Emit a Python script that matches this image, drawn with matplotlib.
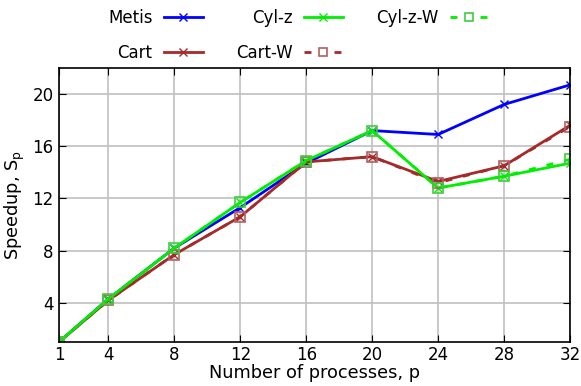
import numpy as np
import matplotlib
matplotlib.use("Agg")
import matplotlib.pyplot as plt
from matplotlib.lines import Line2D

procs = [1, 4, 8, 12, 16, 20, 24, 28, 32]
metis = [1.0, 4.3, 8.2, 11.3, 14.7, 17.2, 16.9, 19.2, 20.7]
cart = [1.0, 4.2, 7.7, 10.6, 14.8, 15.2, 13.3, 14.5, 17.6]
cylz = [1.0, 4.3, 8.2, 11.7, 14.9, 17.2, 12.8, 13.7, 14.7]
cart_w = [1.0, 4.2, 7.7, 10.6, 14.8, 15.2, 13.2, 14.5, 17.5]
cylz_w = [1.0, 4.3, 8.2, 11.7, 14.9, 17.2, 12.8, 13.7, 15.0]

xticks = [1, 4, 8, 12, 16, 20, 24, 28, 32]
yticks = [4, 8, 12, 16, 20]

blue = "#0000ff"
brown = "#a52a2a"
green = "#00ee00"

fig = plt.figure(figsize=(5.81, 3.86), dpi=100)
ax = fig.add_axes([0.1015, 0.114, 0.8795, 0.71])

l_metis, = ax.plot(procs, metis, color=blue, lw=2, marker="x", ms=6, mew=1)
l_cart, = ax.plot(procs, cart, color=brown, lw=2, marker="x", ms=6, mew=1)
l_cylz, = ax.plot(procs, cylz, color=green, lw=2, marker="x", ms=6, mew=1)
ax.plot(procs, cart_w, color=brown, lw=2, ls=(0, (2.5, 4)), marker="s", ms=7,
        mfc="none", mec="#b06060", mew=1.2)
ax.plot(procs, cylz_w, color=green, lw=2, ls=(0, (2.5, 4)), marker="s", ms=7,
        mfc="none", mec="#40cc40", mew=1.2)

# legend proxies for the dashed series: "- [] -"
h_cart_w = Line2D([], [], color=brown, lw=2, ls=(0, (2.5, 8.3)), marker="s", ms=5.5,
                  mfc="none", mec="#b06060", mew=1.2)
h_cylz_w = Line2D([], [], color=green, lw=2, ls=(0, (2.5, 8.3)), marker="s", ms=5.5,
                  mfc="none", mec="#40cc40", mew=1.2)

ax.set_xlim(1, 32)
ax.set_ylim(1, 22)
ax.set_xticks(xticks)
ax.set_yticks(yticks)
ax.tick_params(direction="in", top=True, right=True, labelsize=12, length=5)
ax.tick_params(axis="x", pad=3)
ax.tick_params(axis="y", pad=4)
ax.grid(True, color="#c0c0c0", lw=1.2)
ax.set_axisbelow(True)
for sp in ax.spines.values():
    sp.set_linewidth(1.2)

ax.set_xlabel("Number of processes, p", fontsize=12.8, labelpad=0)
ax.set_ylabel("Speedup, S$_\\mathrm{p}$", fontsize=12.8, labelpad=4)

fig.legend([l_metis, l_cart, l_cylz, h_cart_w, h_cylz_w],
           ["Metis", "Cart", "Cyl-z", "Cart-W", "Cyl-z-W"],
           loc="upper left", bbox_to_anchor=(108 / 581, 1 - 9 / 386), ncol=3,
           frameon=False, borderpad=0, borderaxespad=0,
           markerfirst=False, fontsize=12, handlelength=2.3, handletextpad=0.7,
           columnspacing=2.0, labelspacing=1.0)

fig.savefig("out.png", dpi=100)
